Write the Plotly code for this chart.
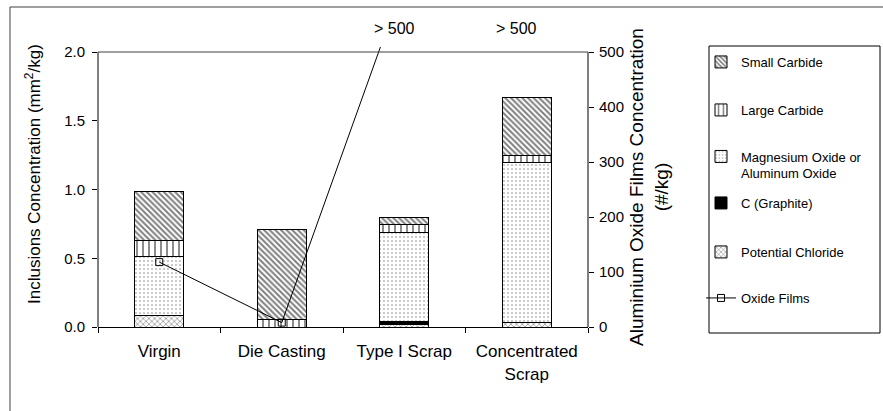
import plotly.graph_objects as go

# Sample sources (x categories)
categories = ["Virgin", "Die Casting", "Type I Scrap", "Concentrated<br>Scrap"]

# Inclusion concentrations by type (mm^2/kg), stacked bottom -> top
potential_chloride = [0.085, 0.0, 0.018, 0.035]
graphite = [0.0, 0.0, 0.020, 0.0]
mgo_or_al2o3 = [0.431, 0.0, 0.651, 1.160]
large_carbide = [0.112, 0.056, 0.060, 0.051]
small_carbide = [0.357, 0.654, 0.046, 0.421]

# Aluminium oxide film concentration (#/kg); the last two exceed the axis (> 500)
oxide_films = [118, 8, 630, 630]
over_range_labels = ["", "", "> 500", "> 500"]

Y1_MAX, Y2_MAX = 2.0, 500

FONT = "Liberation Sans, Arial, sans-serif"
W, H = 883, 411
ML, MR, MT, MB = 98, 295, 47, 84
PW, PH = W - ML - MR, H - MT - MB
BOX_H = 275                      # visible plot box; the line may run slightly above it
EXT = PH / BOX_H


def px_x(p):
    return (p - ML) / PW


def px_y(p):
    return (H - MB - p) / PH


fig = go.Figure()

# (name, values, pattern, legend id, legend centre y in px)
bar_specs = [
    ("Potential Chloride", potential_chloride, dict(shape="x", size=4, solidity=0.3), "legend5", 252),
    ("C (Graphite)", graphite, None, "legend4", 203),
    ("Magnesium Oxide or<br>Aluminum Oxide", mgo_or_al2o3, dict(shape=".", size=4, solidity=0.12), "legend3", 165),
    ("Large Carbide", large_carbide, dict(shape="|", size=6, solidity=0.3), "legend2", 110),
    ("Small Carbide", small_carbide, dict(shape="\\", size=4, solidity=0.5), "legend", 62),
]
legend_pos = {}
for name, vals, pat, leg, ly in bar_specs:
    if pat is None:
        marker = dict(color="black", line=dict(color="black", width=1))
    else:
        marker = dict(color="white", line=dict(color="black", width=1),
                      pattern=dict(fgcolor="black", bgcolor="white", **pat))
    fig.add_trace(go.Bar(x=categories, y=vals, name=name, marker=marker, legend=leg))
    legend_pos[leg] = ly

fig.add_trace(go.Scatter(
    x=categories, y=oxide_films, name="Oxide Films", mode="lines+markers",
    yaxis="y2", legend="legend6",
    line=dict(color="black", width=1),
    marker=dict(symbol="square-open", size=7, color="black", line=dict(width=1)),
))
legend_pos["legend6"] = 298

for cat, lab in zip(categories, over_range_labels):
    if lab:
        fig.add_annotation(x=cat, xref="x", y=px_y(28), yref="paper", yanchor="middle",
                           text=lab, showarrow=False, xshift=-10,
                           font=dict(family=FONT, size=16, color="black"))

# left axis title
fig.add_annotation(x=px_x(33), xref="paper", y=px_y(174), yref="paper",
                   xanchor="center", yanchor="middle", textangle=-90, showarrow=False,
                   text="Inclusions Concentration (mm<sup>2</sup>/kg)",
                   font=dict(family=FONT, size=17, color="black"))

axis_common = dict(showgrid=False, zeroline=False, automargin=False,
                   ticks="outside", tickcolor="black", ticklen=5)

legends = {}
for leg, ly in legend_pos.items():
    legends[leg] = dict(xref="container", yref="container",
                        x=701 / W, y=1 - ly / H, xanchor="left", yanchor="middle",
                        borderwidth=0, bgcolor="rgba(0,0,0,0)", valign="top",
                        font=dict(family=FONT, size=13, color="black"))

line_style = dict(color="black", width=1)
fig.update_layout(
    width=W, height=H,
    margin=dict(l=ML, r=MR, t=MT, b=MB, pad=0, autoexpand=False),
    paper_bgcolor="white", plot_bgcolor="white",
    barmode="stack", bargap=0.6,
    showlegend=True,
    xaxis=dict(type="category", categoryarray=categories, range=[-0.5, 3.5],
               tickson="boundaries", showline=True, linecolor="black", linewidth=1,
               ticklabelstandoff=9,
               tickfont=dict(family=FONT, size=17, color="black"), **axis_common),
    yaxis=dict(range=[0, Y1_MAX * EXT], tickvals=[0, 0.5, 1.0, 1.5, 2.0], tickformat=".1f",
               showline=False, ticklabelstandoff=4,
               tickfont=dict(family=FONT, size=15, color="black"),
               **axis_common),
    yaxis2=dict(overlaying="y", side="right", anchor="x", range=[0, Y2_MAX * EXT],
                tickvals=[0, 100, 200, 300, 400, 500], showline=False, ticklabelstandoff=2,
                tickfont=dict(family=FONT, size=15, color="black"),
                title=dict(text="Aluminium Oxide Films Concentration<br>(#/kg)",
                           font=dict(family=FONT, size=19, color="black"), standoff=6),
                **axis_common),
    shapes=[
        # left and right axis lines, top edge of the plot box
        dict(type="line", xref="paper", yref="y", x0=0, x1=0, y0=0, y1=Y1_MAX, line=line_style),
        dict(type="line", xref="paper", yref="y", x0=1, x1=1, y0=0, y1=Y1_MAX, line=line_style),
        dict(type="line", xref="paper", yref="y", x0=0, x1=1, y0=Y1_MAX, y1=Y1_MAX,
             line=dict(color="#404040", width=1)),
        # legend frame
        dict(type="rect", xref="paper", yref="paper", x0=px_x(709), x1=px_x(880),
             y0=px_y(333), y1=px_y(46), line=line_style, fillcolor="rgba(0,0,0,0)"),
        # chart frame (left and top edges)
        dict(type="line", xref="paper", yref="paper", x0=px_x(10), x1=px_x(10),
             y0=px_y(7), y1=px_y(412), line=dict(color="#404040", width=1)),
        dict(type="line", xref="paper", yref="paper", x0=px_x(10), x1=px_x(884),
             y0=px_y(7), y1=px_y(7), line=dict(color="#404040", width=1)),
    ],
    **legends,
)

fig.write_html("out.html")
